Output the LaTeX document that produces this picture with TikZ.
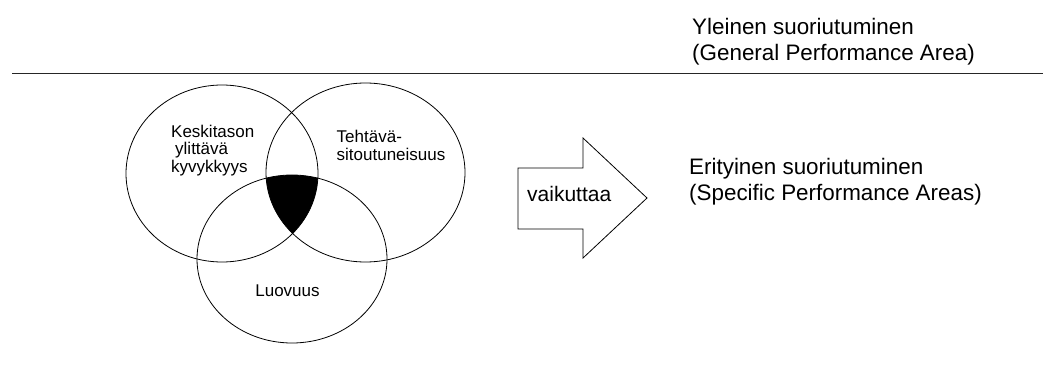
\documentclass[tikz,border=0pt]{standalone}
\usepackage{fontspec}
\setmainfont{Liberation Sans}

\begin{document}
\begin{tikzpicture}[x=1pt, y=1pt,
  venn/.style={draw=black, line width=0.8pt},
  lbl/.style={inner sep=0pt, align=left, font=\fontsize{17}{17.5}\selectfont},
  big/.style={inner sep=0pt, align=left, font=\fontsize{22.4}{26}\selectfont},
  ]
  \useasboundingbox (0,0) rectangle (1043,-374);
  \coordinate (abil) at (222,-173.5);
  \coordinate (task) at (365.5,-172.5);
  \coordinate (crea) at (292,-259);
  % common core of the three circles
  \begin{scope}
    \clip (abil) ellipse [x radius=96, y radius=88.5];
    \clip (task) ellipse [x radius=99.5, y radius=89.5];
    \fill (crea) ellipse [x radius=95, y radius=84];
  \end{scope}
  \draw[venn] (abil) ellipse [x radius=96, y radius=88.5];
  \draw[venn] (task) ellipse [x radius=99.5, y radius=89.5];
  \draw[venn] (crea) ellipse [x radius=95, y radius=84];
  \node[lbl, anchor=north west] (abiltext) at (171,-124.5) {Keskitason\\\hspace*{4pt}ylittävä\\kyvykkyys};
  \node[lbl, anchor=north west] (tasktext) at (336.5,-130) {Tehtävä-\\sitoutuneisuus};
  \node[lbl, anchor=base] (creatext) at (287.5,-296.7) {Luovuus};
  % influence arrow
  \draw[venn] (518,-168) -- (583,-168) -- (583,-138) -- (647,-198)
    -- (583,-258) -- (583,-229) -- (518,-229) -- cycle;
  \node[anchor=base west, inner sep=0pt, font=\fontsize{21}{25}\selectfont] (infl) at (527,-201.7) {vaikuttaa};
  % performance levels
  \coordinate (rulel) at (12,-73.5);
  \coordinate (ruler) at (1043,-73.5);
  \draw[line width=1pt, black!85] (rulel) -- (ruler);
  \node[big, anchor=north west] (general) at (692,-18.5) {Yleinen suoriutuminen\\(General Performance Area)};
  \node[big, anchor=north west] (specific) at (689,-158.5) {Erityinen suoriutuminen\\(Specific Performance Areas)};
\end{tikzpicture}
\end{document}
